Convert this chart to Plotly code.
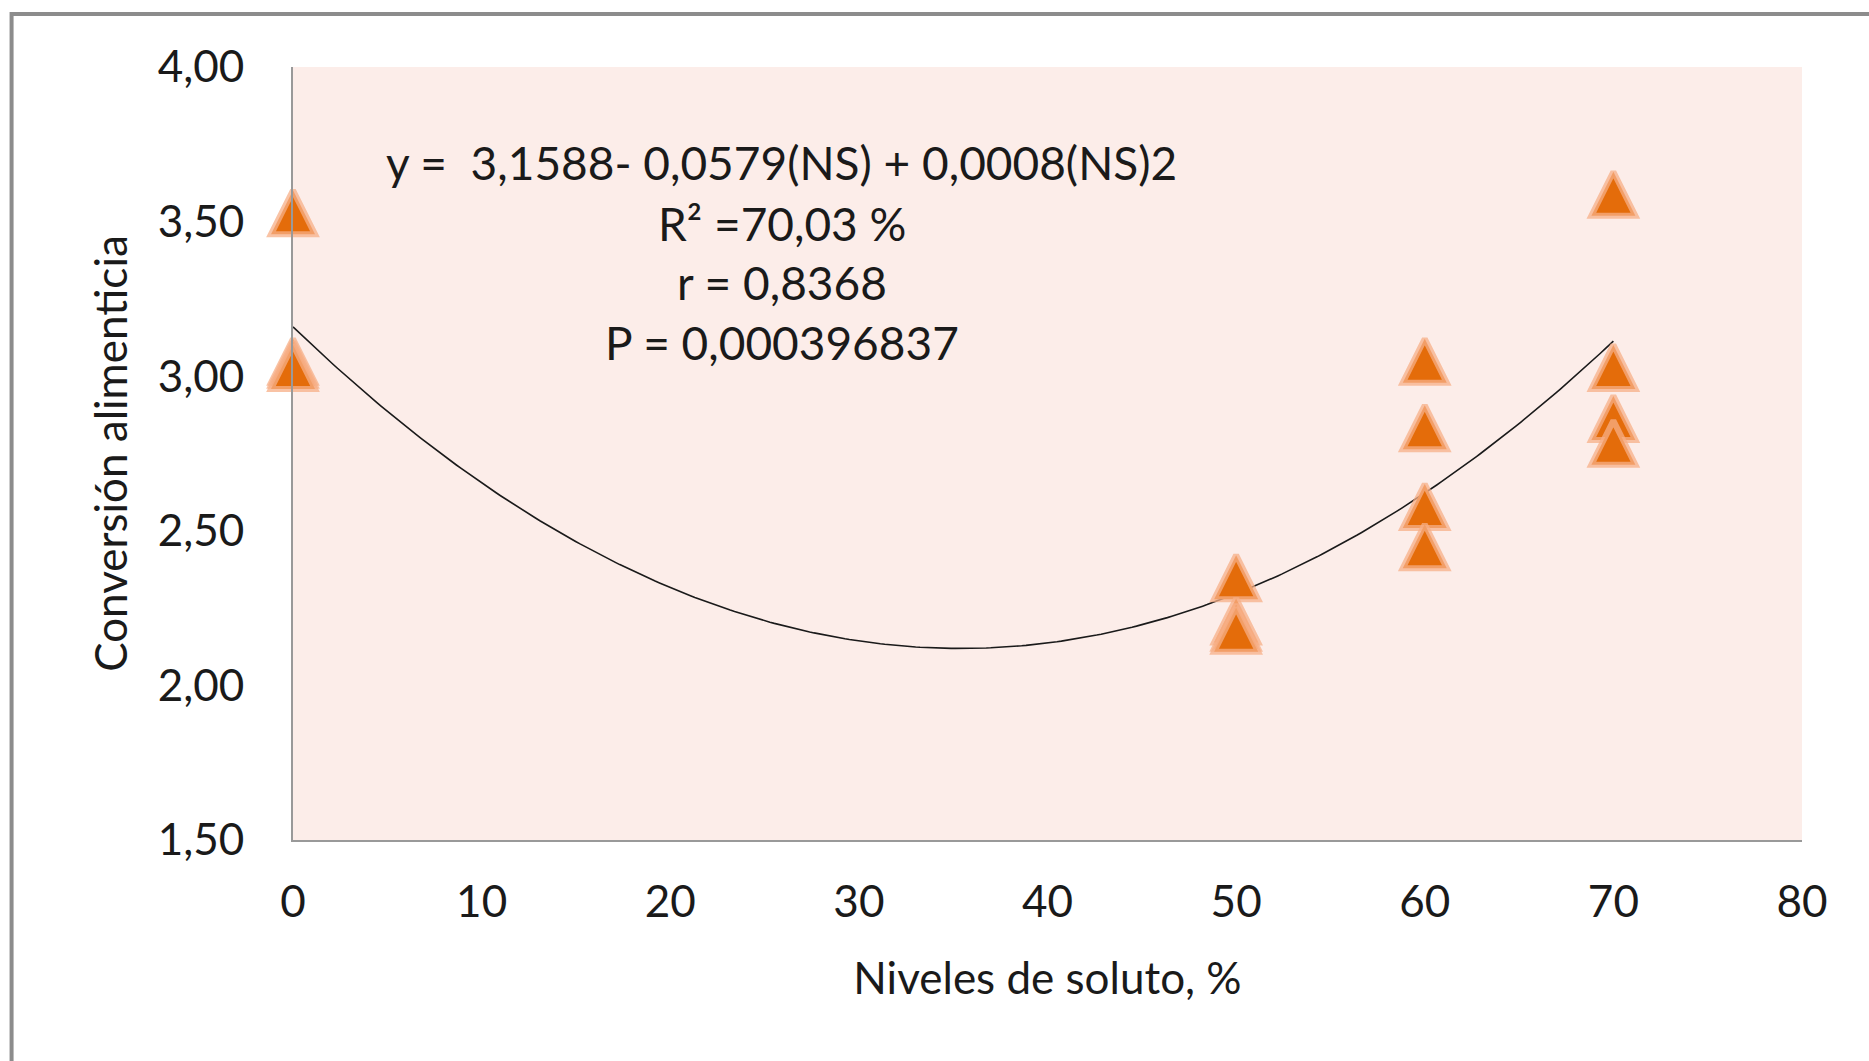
import numpy as np
import plotly.graph_objects as go

# Data
niveles = [0, 0, 0, 0, 50, 50, 50, 50, 60, 60, 60, 60, 70, 70, 70, 70]
conversion = [3.53, 3.05, 3.04, 3.03, 2.35, 2.21, 2.19, 2.18,
              3.05, 2.835, 2.58, 2.45, 3.59, 3.03, 2.865, 2.785]

x_ticks = [0, 10, 20, 30, 40, 50, 60, 70, 80]
y_ticks = [1.5, 2.0, 2.5, 3.0, 3.5, 4.0]
y_tick_text = ["1,50", "2,00", "2,50", "3,00", "3,50", "4,00"]

eq_lines = ["y =  3,1588- 0,0579(NS) + 0,0008(NS)2",
            "R² =70,03 %",
            "r = 0,8368",
            "P = 0,000396837"]

# Polynomial (order 2) trendline fitted to the data, as the spreadsheet does
coef = np.polyfit(niveles, conversion, 2)
xs = np.linspace(min(niveles), max(niveles), 300)
ys = np.polyval(coef, xs)

FONT = "Lato"
MSIZE = 44
fig = go.Figure()
fig.add_trace(go.Scatter(x=xs, y=ys, mode="lines",
                         line=dict(color="#1a1a1a", width=1.6),
                         hoverinfo="skip", showlegend=False))
fig.add_trace(go.Scatter(x=niveles, y=conversion, mode="markers", cliponaxis=False,
                         marker=dict(symbol="arrow-down", angle=180, size=MSIZE,
                                     standoff=MSIZE / 2, color="#E46C0A",
                                     line=dict(color="rgba(247,175,135,0.75)", width=6)),
                         showlegend=False))

for i, t in enumerate(eq_lines):
    fig.add_annotation(text=t, xref="x", yref="paper", x=25.9,
                       y=[0.876, 0.798, 0.721, 0.644][i], showarrow=False,
                       font=dict(family=FONT, size=46, color="#1a1a1a"),
                       xanchor="center", yanchor="middle")

# outer chart frame
fig.add_shape(type="rect", xref="paper", yref="paper",
              x0=-0.1865, y0=-0.5, x1=1.2, y1=1.0685,
              line=dict(color="#8c8c8c", width=4), fillcolor="rgba(0,0,0,0)", layer="below")

fig.update_layout(
    width=1869, height=1061,
    margin=dict(l=293, r=67, t=67, b=221),
    paper_bgcolor="white", plot_bgcolor="#FCEDE9",
    font=dict(family=FONT, size=44, color="#1a1a1a"),
    xaxis=dict(range=[0, 80], tickvals=x_ticks, showgrid=False, zeroline=False,
               showline=True, linecolor="#999999", linewidth=2, ticks="",
               ticklabelstandoff=22,
               title=dict(text="Niveles de soluto, %", standoff=38,
                          font=dict(family=FONT, size=44))),
    yaxis=dict(range=[1.5, 4.0], tickvals=y_ticks, ticktext=y_tick_text,
               showgrid=False, zeroline=False, showline=True, linecolor="#999999",
               linewidth=2, ticks="", ticklabelstandoff=38,
               title=dict(text="Conversión alimenticia", standoff=16,
                          font=dict(family=FONT, size=44))),
)

fig.write_html("out.html")
